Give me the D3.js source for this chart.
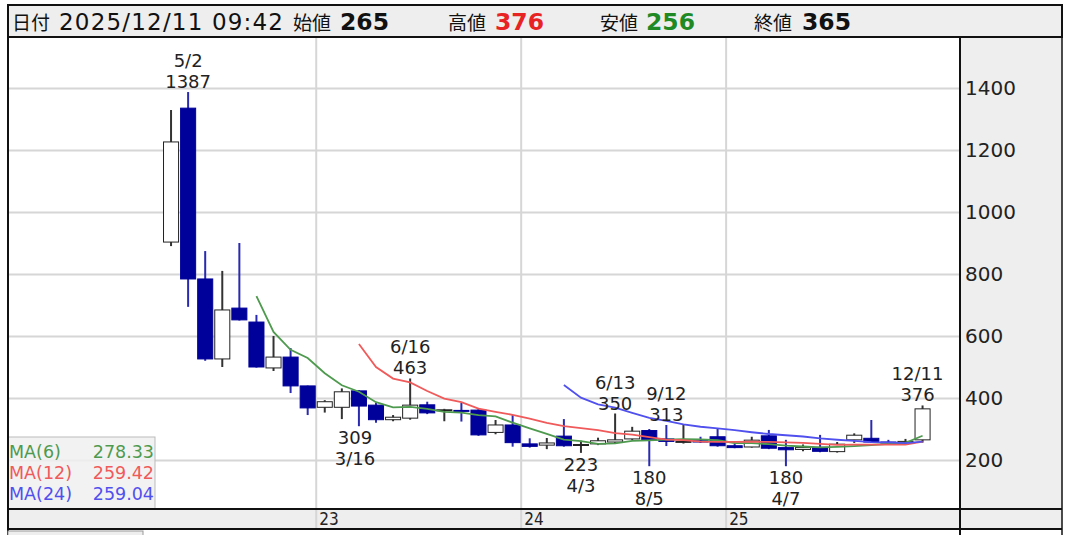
<!DOCTYPE html>
<html><head><meta charset="utf-8">
<script src="https://cdn.jsdelivr.net/npm/d3@7/dist/d3.min.js"></script>
<style>
html,body{margin:0;padding:0;background:#fff;}
svg{display:block;}
</style></head>
<body>
<svg id="c" width="1069" height="535"></svg>
<script>
// ---------- data (monthly candles, Apr 2022 – Dec 2025) ----------
const months = ["2022-04","2022-05","2022-06","2022-07","2022-08","2022-09","2022-10","2022-11","2022-12",
"2023-01","2023-02","2023-03","2023-04","2023-05","2023-06","2023-07","2023-08","2023-09","2023-10","2023-11","2023-12",
"2024-01","2024-02","2024-03","2024-04","2024-05","2024-06","2024-07","2024-08","2024-09","2024-10","2024-11","2024-12",
"2025-01","2025-02","2025-03","2025-04","2025-05","2025-06","2025-07","2025-08","2025-09","2025-10","2025-11","2025-12"];
const opens  = [903,1335,784,526,690,645,497,532,439, 370,370,423,377,330,335,378,360,360,361,289,313, 252,248,277,247,252,258,268,295,268,258,262,275, 246,242,278,240,234,241,227,265,270,258,256,265];
const highs  = [1329,1387,874,810,900,668,600,561,440, 393,431,425,385,345,463,388,365,384,368,329,345, 270,271,332,262,272,350,307,300,313,315,275,302, 252,275,297,265,250,281,258,286,329,265,268,376];
const lows   = [890,694,520,500,650,498,487,416,345, 353,332,309,320,325,330,348,325,324,278,283,243, 240,235,243,223,248,255,265,180,245,253,255,243, 238,240,235,180,228,225,224,255,256,250,253,256];
const closes = [1226,784,526,684,652,500,532,439,368, 388,420,374,330,338,377,352,362,358,281,313,256, 244,255,246,250,262,265,293,265,260,260,258,246, 240,264,238,233,240,228,251,280,258,256,260,365];

const maPeriods = [6,12,24];
const maNames = ["MA(6)","MA(12)","MA(24)"];
const maColors = ["#4e9a4e","#f05a5a","#5050ee"];

const yTicks = [200,400,600,800,1000,1200,1400];
const yearTicks = ["2023-01","2024-01","2025-01"];
const yearLabels = ["23","24","25"];

// annotations: month, type(high/low), date text, value
const annMonths = ["2022-05","2023-06","2024-06","2024-09","2023-03","2024-04","2024-08","2025-04","2025-12"];
const annTypes  = ["high","high","high","high","low","low","low","low","high"];
const annDates  = ["5/2","6/16","6/13","9/12","3/16","4/3","8/5","4/7","12/11"];
const annValues = [1387,463,350,313,309,223,180,180,376];

const headerLabels = ["日付","始値","高値","安値","終値"];
const headerDate = "2025/12/11 09:42";
const headerValues = ["265","376","256","365"];

// ---------- drawing ----------
const svg = d3.select("#c");
const FONT = "'DejaVu Sans', Verdana, sans-serif";
const JP = "'Noto Sans CJK JP', sans-serif";

const L = 8, R = 1062, PR = 960, T = 37, B = 509, XB = 529;

const x = d3.scaleBand().domain(months).range([162.5, 162.5 + 45 * 17.08]).paddingInner(0.06).paddingOuter(0.03);
const y = d3.scaleLinear().domain([200, 1400]).range([460, 88]);
const cx = m => x(m) + x.bandwidth() / 2;

// backgrounds
svg.append("rect").attr("x",0).attr("y",0).attr("width",1069).attr("height",535).attr("fill","#fff");
svg.append("rect").attr("x",L).attr("y",T).attr("width",PR-L).attr("height",B-T).attr("fill","#fff");
svg.append("rect").attr("x",PR).attr("y",T).attr("width",R-PR).attr("height",XB-T).attr("fill","#eeeeee");
svg.append("rect").attr("x",L).attr("y",B).attr("width",R-L).attr("height",XB-B).attr("fill","#eeeeee");

// gridlines
const yAxisG = svg.append("g").attr("transform",`translate(${PR},0)`)
  .call(d3.axisLeft(y).tickValues(yTicks).tickSize(PR-L).tickFormat(""));
yAxisG.select(".domain").remove();
yAxisG.selectAll(".tick line").attr("stroke","#d6d6d6").attr("stroke-width",2);

const xAxisG = svg.append("g").attr("transform",`translate(0,${XB})`)
  .call(d3.axisTop(x).tickValues(yearTicks).tickSize(XB-T).tickFormat((d,i)=>yearLabels[i]));
xAxisG.select(".domain").remove();
xAxisG.selectAll(".tick").attr("transform", d => `translate(${x(d) - x.step()*x.paddingInner()/2},0)`);
xAxisG.selectAll(".tick line").attr("stroke","#d6d6d6").attr("stroke-width",2);
xAxisG.selectAll(".tick text").attr("y",-4).attr("x",3).attr("text-anchor","start")
  .attr("font-family",FONT).attr("font-stretch","condensed").attr("font-size",17).attr("fill","#222");

// y tick labels in right panel
svg.append("g").selectAll("text").data(yTicks).join("text")
  .attr("x",PR+5).attr("y",d=>y(d)).attr("dy","0.36em")
  .attr("font-family",FONT).attr("font-size",20).attr("fill","#222").text(d=>d);

// candles
const cg = svg.append("g");
months.forEach((m,i)=>{
  const o=opens[i], c=closes[i], h=highs[i], l=lows[i];
  const up = c >= o;
  const wc = up ? "#333" : "#2a2ab0";
  cg.append("line").attr("x1",cx(m)).attr("x2",cx(m)).attr("y1",y(h)).attr("y2",y(l))
    .attr("stroke",wc).attr("stroke-width",2);
  const top = y(Math.max(o,c)), bot = y(Math.min(o,c));
  cg.append("rect").attr("x",x(m)+0.5).attr("y",top).attr("width",x.bandwidth()-1)
    .attr("height",Math.max(1,bot-top))
    .attr("fill", up ? "#fff" : "#00009a")
    .attr("stroke", up ? "#222" : "#00009a").attr("stroke-width",1);
});

// moving averages (computed from closes)
maPeriods.forEach((p,k)=>{
  const pts = [];
  for (let i=p-1;i<closes.length;i++){
    pts.push([months[i], d3.mean(closes.slice(i-p+1,i+1))]);
  }
  svg.append("path").datum(pts)
    .attr("d", d3.line().x(d=>cx(d[0])).y(d=>y(d[1])))
    .attr("fill","none").attr("stroke",maColors[k]).attr("stroke-width",1.8);
});

// annotations (two lines each)
const ag = svg.append("g").attr("font-family",FONT).attr("font-size",18).attr("fill","#222").attr("text-anchor","middle");
annMonths.forEach((m,i)=>{
  let xx = cx(m);
  if (annDates[i]==="12/11") xx -= 5;
  if (annDates[i]==="3/16") xx -= 4;
  if (annTypes[i]==="high"){
    const yy = y(annValues[i]) - 4;
    ag.append("text").attr("x",xx).attr("y",yy-21).text(annDates[i]);
    ag.append("text").attr("x",xx).attr("y",yy).text(annValues[i]);
  } else {
    const yy = y(annValues[i]) + 18;
    ag.append("text").attr("x",xx).attr("y",yy).text(annValues[i]);
    ag.append("text").attr("x",xx).attr("y",yy+21).text(annDates[i]);
  }
});

// legend
const lg = svg.append("g");
lg.append("rect").attr("x",L).attr("y",437).attr("width",147).attr("height",B-437)
  .attr("fill","#f0f0f0").attr("fill-opacity",0.85).attr("stroke","#bbb").attr("stroke-width",1);
maPeriods.forEach((p,k)=>{
  const v = d3.mean(closes.slice(closes.length-p));
  const yy = 458 + k*21;
  lg.append("text").attr("x",L+1).attr("y",yy).attr("font-family",FONT).attr("font-size",17.5)
    .attr("fill",maColors[k]).text(maNames[k]);
  lg.append("text").attr("x",L+146).attr("y",yy).attr("text-anchor","end").attr("font-family",FONT)
    .attr("font-size",17.5).attr("fill",maColors[k]).text(v.toFixed(2));
});

// frame lines
const fl = (x1,y1,x2,y2,w)=>svg.append("line").attr("x1",x1).attr("y1",y1).attr("x2",x2).attr("y2",y2)
  .attr("stroke","#111").attr("stroke-width",w);
fl(L,5,L,535,2);
fl(R,5,R,535,1.5);
fl(PR,T,PR,535,2);
fl(L,B,R,B,2);
fl(L,XB,R,XB,2);
svg.append("rect").attr("x",L).attr("y",XB+2).attr("width",135).attr("height",10)
  .attr("fill","#eeeeee").attr("stroke","#999");

// header
svg.append("rect").attr("x",L).attr("y",5).attr("width",R-L).attr("height",T-5)
  .attr("fill","#eeeeee").attr("stroke","#111").attr("stroke-width",2);
const hg = svg.append("g");
const hy = 30;
hg.append("text").attr("x",12).attr("y",hy).attr("font-family",JP).attr("font-size",19).attr("fill","#111").text(headerLabels[0]);
hg.append("text").attr("x",59).attr("y",hy).attr("font-family",FONT).attr("font-size",23)
  .attr("textLength",224).attr("lengthAdjust","spacing").attr("fill","#111").text(headerDate);
const lblX = [293,448,600,754], valX = [340,495,646,802];
const valCol = ["#111","#e82323","#1f8a24","#111"];
for (let i=0;i<4;i++){
  hg.append("text").attr("x",lblX[i]).attr("y",hy).attr("font-family",JP).attr("font-size",19).attr("fill","#111").text(headerLabels[i+1]);
  hg.append("text").attr("x",valX[i]).attr("y",hy).attr("font-family",FONT).attr("font-weight","bold")
    .attr("font-size",23).attr("textLength",49).attr("lengthAdjust","spacingAndGlyphs").attr("fill",valCol[i]).text(headerValues[i]);
}
</script>
</body></html>
